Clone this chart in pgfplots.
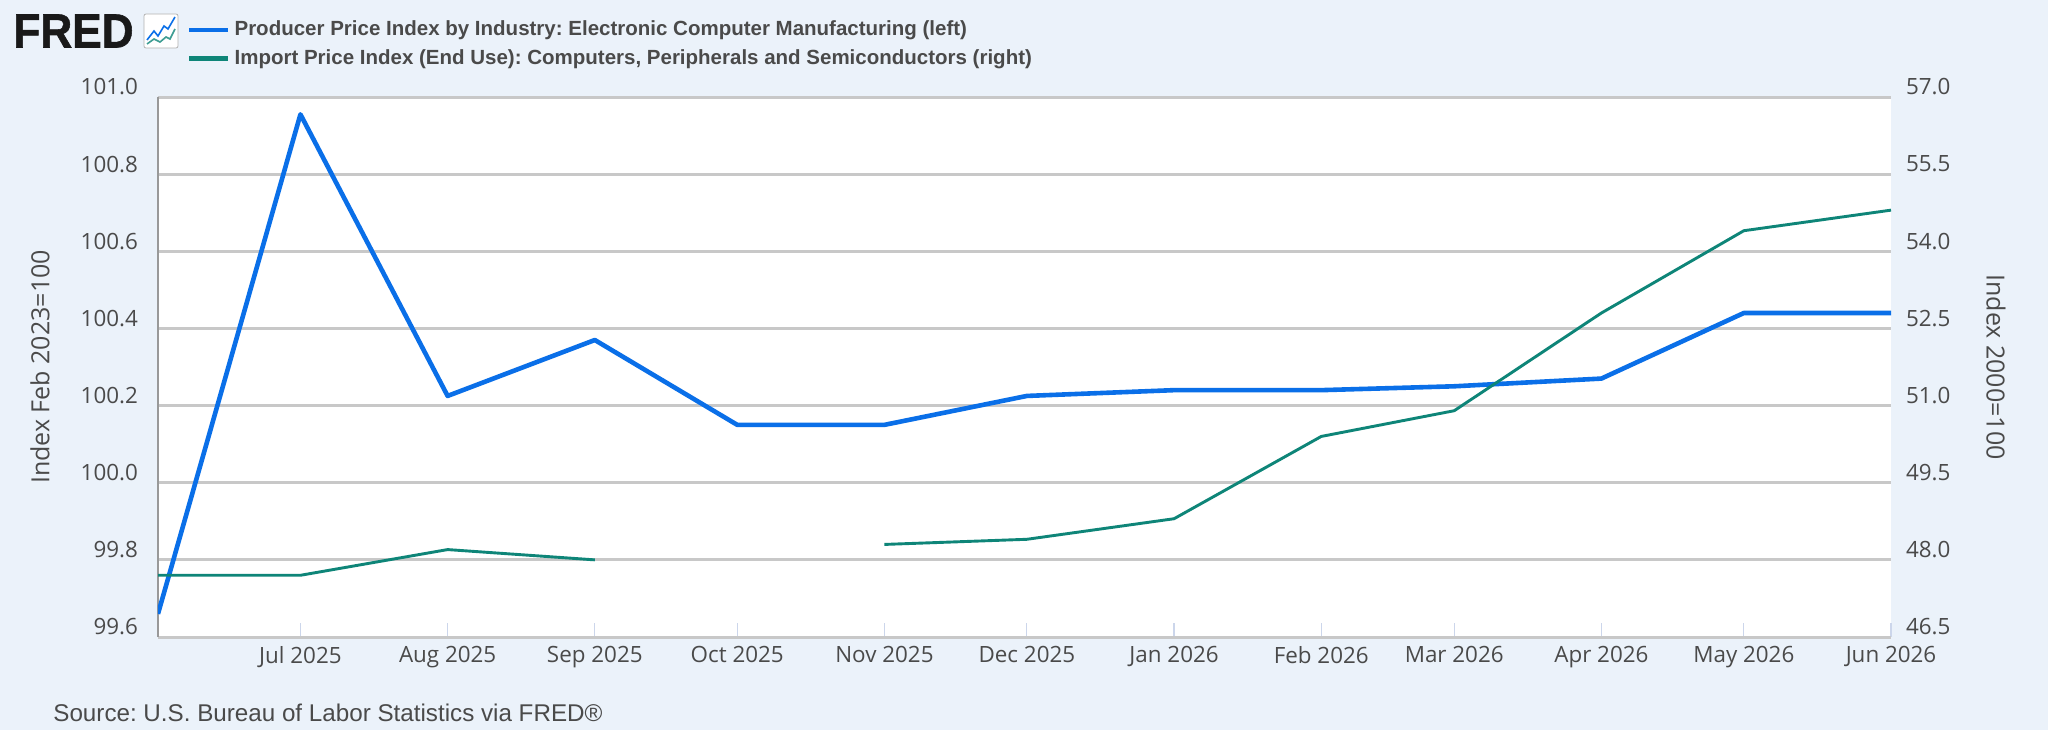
\documentclass[border=0pt]{standalone}
\usepackage{fontspec}
\setmainfont{Open Sans}
\newfontfamily\legfont{Liberation Sans}
\newfontfamily\logofont[FakeBold=1.2]{Liberation Sans Bold}
\usepackage{pgfplots}
\pgfplotsset{compat=1.18}
\usepackage{pgfplotstable}
\frenchspacing

\definecolor{pagebg}{HTML}{EBF2FA}
\definecolor{fredblue}{HTML}{0A6FE8}
\definecolor{fredgreen}{HTML}{0E8578}
\definecolor{gridgray}{HTML}{C8C8C8}
\definecolor{tickblue}{HTML}{CCD6EB}
\definecolor{txt}{HTML}{4A4A4A}

% x = days since 1 Jun 2025
\pgfplotstableread{
x ppi
0 99.66
30 100.955
61 100.225
92 100.37
122 100.15
153 100.15
183 100.225
214 100.24
245 100.24
273 100.25
304 100.27
334 100.44
365 100.44
}\ppidata

\pgfplotstableread{
x imp
0 47.7
30 47.7
61 48.2
92 48.0
122 nan
153 48.3
183 48.4
214 48.8
245 50.4
273 50.9
304 52.8
334 54.4
365 54.8
}\impdata

\pgfplotsset{
  common/.style={
    at={(0,0)}, anchor=south west,
    scale only axis, width=866.5pt, height=270pt,
    xmin=0, xmax=365,
    /pgf/number format/assume math mode=true,
    tick label style={font=\fontsize{11.2}{13}\selectfont, text=txt},
  },
}

\begin{document}
\begin{tikzpicture}
  \fill[pagebg] (-79pt,-46.5pt) rectangle (945pt,318.5pt);

  % logo
  \node[anchor=west, inner sep=0pt, text=black!90] at (-72.5pt,303pt)
    {\scalebox{.92}[1]{\logofont\fontsize{24}{24}\selectfont FRED}};
  \draw[gray!60, fill=white, rounded corners=1pt] (-7pt,294.5pt) rectangle (10pt,311.5pt);
  \draw[fredblue, line width=.8pt] (-5.5pt,298.5pt) -- (-2pt,303pt) -- (0pt,300.5pt) -- (3pt,305.5pt) -- (5pt,304pt) -- (8.5pt,310pt);
  \draw[fredgreen!80, line width=.8pt] (-5.5pt,296.5pt) -- (-2pt,299pt) -- (1pt,297.5pt) -- (4pt,300pt) -- (6pt,299pt) -- (8.5pt,304pt);

  \begin{axis}[
    common,
    axis background/.style={fill=white},
    ymin=99.6, ymax=101.0,
    ytick={99.6,99.8,100.0,100.2,100.4,100.6,100.8,101.0},
    yticklabel style={/pgf/number format/fixed, /pgf/number format/fixed zerofill, /pgf/number format/precision=1, yshift=5pt, xshift=-6.5pt},
    ymajorgrids,
    grid style={gridgray, line width=1.5pt},
    xtick={30,61,92,122,153,183,214,245,273,304,334,365},
    xticklabels={Jul 2025,Aug 2025,Sep 2025,Oct 2025,Nov 2025,Dec 2025,Jan 2026,Feb 2026,Mar 2026,Apr 2026,May 2026,Jun 2026},
    xtick pos=bottom, ytick pos=left,
    major tick length=7pt,
    ytick style={draw=none},
    xtick style={tickblue, line width=.6pt, /pgfplots/major tick length=7pt},
    xticklabel style={yshift=-1pt},
    axis x line*=bottom,
    axis y line*=left,
    separate axis lines,
    y axis line style={draw=gray!80, line width=1pt, -},
    x axis line style={draw=gridgray, line width=1.3pt, -},
    ylabel={Index Feb 2023=100},
    every axis y label/.style={rotate=90, anchor=center, at={(-59pt,135pt)},
      font=\fontsize{12.5}{14}\selectfont, text=txt},
  ]
    \addplot[fredblue, line width=2.3pt, line join=round, forget plot] table[x=x, y=ppi] {\ppidata};
  \end{axis}

  \begin{axis}[
    common,
    axis x line=none,
    axis y line*=right,
    y axis line style={draw=none},
    ymin=46.5, ymax=57.0,
    ytick={46.5,48.0,49.5,51.0,52.5,54.0,55.5,57.0},
    yticklabel style={/pgf/number format/fixed, /pgf/number format/fixed zerofill, /pgf/number format/precision=1, yshift=5pt, xshift=4pt},
    ytick style={draw=none},
    major tick length=7pt,
    ylabel={Index 2000=100},
    every axis y label/.style={rotate=-90, anchor=center, at={(919pt,135pt)},
      font=\fontsize{12.5}{14}\selectfont, text=txt},
    unbounded coords=jump,
    legend cell align=left,
    legend style={at={(14.5pt,310pt)}, anchor=north west, draw=none, fill=none,
      font=\legfont\bfseries\fontsize{10.25}{12}\selectfont, text=txt,
      row sep=1.5pt, inner sep=0pt, outer sep=0pt,
      /tikz/every even column/.append style={column sep=2.2pt}},
    legend image code/.code={\draw[line width=2.3pt, #1] (0pt,0pt) -- (19.5pt,0pt);},
  ]
    \addlegendimage{fredblue}
    \addlegendentry{Producer Price Index by Industry: Electronic Computer Manufacturing (left)}
    \addlegendimage{fredgreen}
    \addlegendentry{Import Price Index (End Use): Computers, Peripherals and Semiconductors (right)}
    \addplot[fredgreen, line width=1.45pt, line join=round, forget plot] table[x=x, y=imp] {\impdata};
  \end{axis}

  \node[anchor=west, inner sep=0pt, text=txt] at (-52.5pt,-38pt)
    {\legfont\fontsize{12.1}{14}\selectfont Source: U.S. Bureau of Labor Statistics via FRED®};
\end{tikzpicture}
\end{document}
